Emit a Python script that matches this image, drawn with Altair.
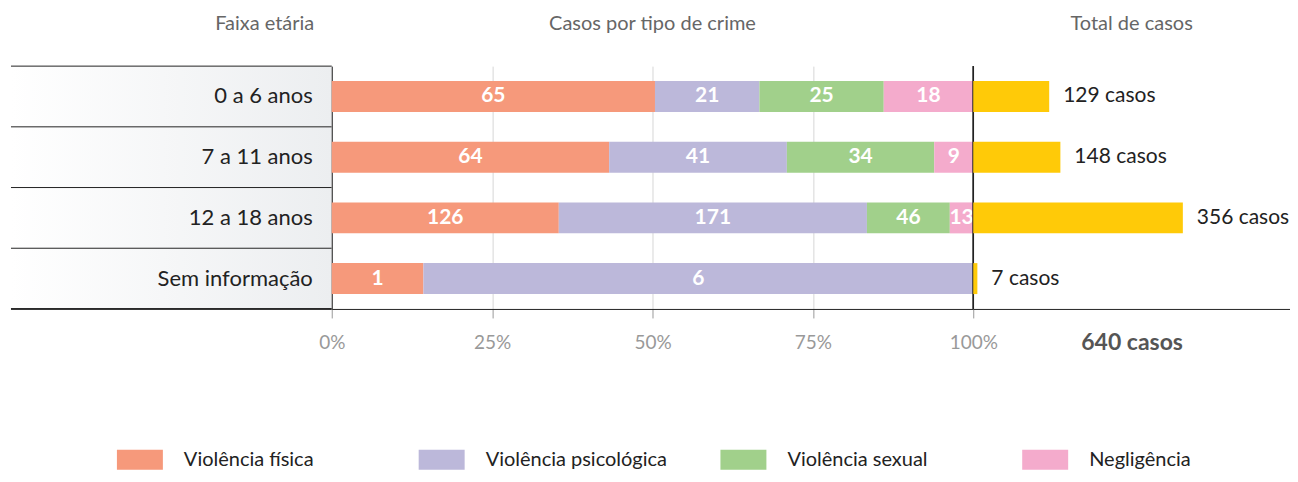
import altair as alt
import pandas as pd

ages = ["0 a 6 anos", "7 a 11 anos", "12 a 18 anos", "Sem informação"]
tipos = ["Violência física", "Violência psicológica", "Violência sexual", "Negligência"]
fisica = [65, 64, 126, 1]
psicologica = [21, 41, 171, 6]
sexual = [25, 34, 46, 0]
negligencia = [18, 9, 13, 0]
totais = [129, 148, 356, 7]
cores = ["#F6997B", "#BCB8DA", "#A1D08B", "#F4ABCC"]
cor_total = "#FFCA08"
pct_ticks = [0, 0.25, 0.5, 0.75, 1]

FONT = "Lato"

rows = []
for i, a in enumerate(ages):
    for j, (t, vals) in enumerate(zip(tipos, [fisica, psicologica, sexual, negligencia])):
        if vals[i] > 0:
            rows.append({"age": a, "tipo": t, "ordem": j, "n": vals[i]})
df_crime = pd.DataFrame(rows)
df_total = pd.DataFrame({"age": ages, "total": totais})
df_tipos = pd.DataFrame({"tipo": tipos})

color_scale = alt.Scale(domain=tipos, range=cores)
band = alt.Scale(paddingInner=0.49, paddingOuter=0.245)
flat = alt.Scale(paddingInner=0, paddingOuter=0)

H = 243

def title(text, anchor, dx=0):
    return alt.TitleParams(text=text, anchor=anchor, dx=dx, fontSize=20, font=FONT,
                           fontWeight="normal", color="#666666", offset=32)

# ---- left panel
grad = alt.LinearGradient(gradient="linear",
                          stops=[alt.GradientStop(color="#ffffff", offset=0),
                                 alt.GradientStop(color="#eceef0", offset=1)],
                          x1=0, x2=1, y1=0, y2=0)
ybase = alt.Y("age:N", sort=ages, scale=flat, axis=None)
left_base = alt.Chart(df_total)
left_bg = left_base.mark_rect(color=grad).encode(y=ybase, x=alt.value(0), x2=alt.value("width"))
left_top = left_base.mark_rule(color="#222", strokeWidth=1).encode(
    y=alt.Y("age:N", sort=ages, bandPosition=0, scale=flat, axis=None),
    x=alt.value(0), x2=alt.value("width"))
left_bottom = left_base.mark_rule(color="#222", strokeWidth=1).encode(
    y=alt.value("height"), x=alt.value(0), x2=alt.value("width"))
left_text = left_base.mark_text(align="right", baseline="middle", dx=-19, fontSize=22,
                                font=FONT, color="#222").encode(
    y=ybase, x=alt.value("width"), text="age:N")
left = alt.layer(left_bg, left_top, left_bottom, left_text).properties(
    width=321, height=H, title=title("Faixa etária", "end", -18))

# ---- middle panel
mid_base = alt.Chart(df_crime).transform_stack(
    stack="n", groupby=["age"], as_=["x0", "x1"], offset="normalize",
    sort=[alt.SortField("ordem", order="ascending")]
).transform_calculate(mid="(datum.x0 + datum.x1) / 2")
ymid = alt.Y("age:N", sort=ages, scale=band,
             axis=alt.Axis(labels=False, ticks=False, title=None, domain=True,
                           domainColor="#222", grid=False))
bars = mid_base.mark_bar().encode(
    y=ymid,
    x=alt.X("x0:Q", scale=alt.Scale(domain=[0, 1], nice=False),
            axis=alt.Axis(values=pct_ticks, format="%", grid=True, gridColor="#d6d6d6",
                          domainColor="#222", tickColor="#999", tickSize=9,
                          labelColor="#999", labelFontSize=19, labelFont=FONT,
                          labelPadding=16, labelFlush=False, title=None)),
    x2="x1:Q",
    color=alt.Color("tipo:N", scale=color_scale, legend=None),
)
labels = mid_base.mark_text(color="white", fontSize=21, fontWeight="bold", font=FONT,
                            baseline="middle").encode(
    y=alt.Y("age:N", sort=ages, scale=band), x="mid:Q", text="n:Q")
end_line = alt.Chart(df_total).mark_rule(color="#222", strokeWidth=1).encode(
    x=alt.value("width"), y=alt.value(0), y2=alt.value("height"))
middle = alt.layer(bars, labels, end_line).properties(
    width=642, height=H, title=title("Casos por tipo de crime", "middle"))

# ---- right panel
right_base = alt.Chart(df_total).transform_calculate(lab="datum.total + ' casos'")
tot_bars = right_base.mark_bar(color=cor_total).encode(
    y=alt.Y("age:N", sort=ages, scale=band, axis=None),
    x=alt.X("total:Q", scale=alt.Scale(domain=[0, 538], nice=False),
            axis=alt.Axis(labels=False, ticks=False, grid=False, domainColor="#222",
                          title=f"{sum(totais)} casos", titleFontSize=23, titleFont=FONT,
                          titleFontWeight="bold", titleColor="#555", titlePadding=23)),
)
tot_text = right_base.mark_text(align="left", baseline="middle", dx=14, fontSize=21,
                                font=FONT, color="#222").encode(
    y=alt.Y("age:N", sort=ages, scale=band), x="total:Q", text="lab:N")
right = alt.layer(tot_bars, tot_text).properties(
    width=317, height=H, title=title("Total de casos", "middle"))

top = alt.hconcat(left, middle, right, spacing=0, bounds="flush").resolve_scale(
    x="independent", y="independent")

# ---- legend
leg_x = alt.X("tipo:N", sort=tipos, axis=None,
              scale=alt.Scale(type="point", padding=0.1755, align=1))
leg_base = alt.Chart(df_tipos)
leg_sq = leg_base.mark_point(shape="M0,-0.4348H2V0.4348H0Z", size=2116, filled=True,
                             opacity=1, strokeWidth=0).encode(
    x=leg_x, y=alt.value(10), color=alt.Color("tipo:N", scale=color_scale, legend=None))
leg_tx = leg_base.mark_text(align="left", baseline="middle", dx=67, fontSize=20,
                            font=FONT, color="#222").encode(
    x=leg_x, y=alt.value(10), text="tipo:N")
legend = alt.layer(leg_sq, leg_tx).properties(width=1012, height=20)

chart = alt.vconcat(top, legend, spacing=94).properties(
    padding={"left": 2, "top": 5, "right": 0, "bottom": 0}
).configure_view(stroke=None).configure_axis(domainWidth=1)

chart.save("out.html", embed_options={"renderer": "svg", "actions": False})
